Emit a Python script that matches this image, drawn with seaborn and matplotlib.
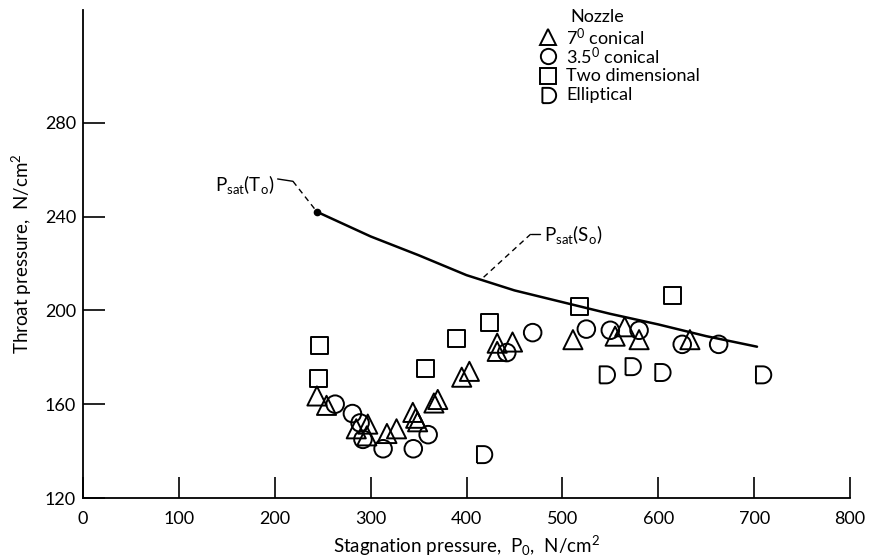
import numpy as np
import pandas as pd
import matplotlib
matplotlib.use("Agg")
import matplotlib.pyplot as plt
from matplotlib.path import Path
import seaborn as sns

# ---- data ----
tri_x = [244, 254, 285, 297, 296, 317, 327, 344, 347, 349, 366, 370, 395, 403, 432, 448, 432, 511, 555, 565, 580, 633]
tri_y = [163.5, 159.5, 149.5, 151.5, 146.5, 147.5, 149.5, 156.5, 154, 152.5, 160.5, 162, 171.5, 174, 186, 186.5, 182.5, 187.5, 189, 193, 187.5, 187.5]
cir_x = [263, 281, 289, 292, 313, 344.5, 360, 442, 469, 525, 550, 580, 625, 663]
cir_y = [160, 156, 152, 145, 141, 141, 147, 182, 190.5, 192, 191.5, 191.5, 185.5, 185.5]
sq_x = [247, 246, 357, 390, 424, 518, 615]
sq_y = [185, 171, 175, 188, 195, 201.5, 206.5]
ell_x = [418, 546, 573, 604, 709]
ell_y = [138.5, 172.5, 176, 173.5, 172.5]

curve_x = [244, 300, 350, 400, 450, 500, 550, 600, 650, 703]
curve_y = [242, 231.5, 223.5, 215, 208.5, 203.5, 198.5, 194, 189, 184.5]

nozzles = ["7° conical", "3.5° conical", "Two dimensional", "Elliptical"]
labels = [r"7$^{\mathregular{0}}$ conical", r"3.5$^{\mathregular{0}}$ conical", "Two dimensional", "Elliptical"]
x_ticks = [0, 100, 200, 300, 400, 500, 600, 700, 800]
y_ticks = [120, 160, 200, 240, 280]

# ---- style ----
sns.set_theme(style="white")
plt.rcParams["font.family"] = ["Lato", "DejaVu Sans"]
plt.rcParams["mathtext.fontset"] = "custom"
plt.rcParams["mathtext.rm"] = "Lato"
plt.rcParams["mathtext.it"] = "Lato"
for k in ["text.color", "axes.labelcolor", "xtick.color", "ytick.color", "axes.edgecolor"]:
    plt.rcParams[k] = "black"

# D-shaped marker
theta = np.linspace(np.pi / 2, -np.pi / 2, 40)
dverts = [(-0.8, -1.0), (-0.8, 1.0), (0.0, 1.0)] + [(np.cos(t), np.sin(t)) for t in theta][1:] + [(-0.8, -1.0)]
d_marker = Path(dverts)

markers = {nozzles[0]: "^", nozzles[1]: "o", nozzles[2]: "s", nozzles[3]: d_marker}
sizes = {nozzles[0]: 190, nozzles[1]: 160, nozzles[2]: 150, nozzles[3]: 150}

df = pd.concat([
    pd.DataFrame({"x": tri_x, "y": tri_y, "nozzle": nozzles[0]}),
    pd.DataFrame({"x": cir_x, "y": cir_y, "nozzle": nozzles[1]}),
    pd.DataFrame({"x": sq_x, "y": sq_y, "nozzle": nozzles[2]}),
    pd.DataFrame({"x": ell_x, "y": ell_y, "nozzle": nozzles[3]}),
], ignore_index=True)

fig = plt.figure(figsize=(8.71, 5.59), dpi=100)
ax = fig.add_axes([0.0953, 0.1091, 0.8806, 0.8729])

# saturation curve
sns.lineplot(x=curve_x, y=curve_y, ax=ax, color="black", linewidth=1.8, sort=True)
ax.plot([curve_x[0]], [curve_y[0]], marker="o", color="black", markersize=4.5)

for nz in nozzles:
    sub = df[df["nozzle"] == nz]
    sns.scatterplot(data=sub, x="x", y="y", ax=ax, marker=markers[nz], s=sizes[nz],
                    facecolor="none", edgecolor="black", linewidth=1.4, legend=False)

ax.set_xlim(0, 800)
ax.set_ylim(120, 328)
ax.set_xticks(x_ticks)
ax.set_yticks(y_ticks)
for s in ["top", "right"]:
    ax.spines[s].set_visible(False)
for s in ["left", "bottom"]:
    ax.spines[s].set_color("black")
    ax.spines[s].set_linewidth(1.3)
ax.tick_params(axis="x", direction="in", length=15, width=1.2, colors="black", labelsize=13, pad=9)
ax.tick_params(axis="y", direction="in", length=16, width=1.2, colors="black", labelsize=13, pad=5)
ax.tick_params(bottom=True, left=True)

ax.set_xlabel(r"Stagnation pressure,  P$_{\mathregular{0}}$,  N/cm$^{\mathregular{2}}$", fontsize=13.5, labelpad=5)
ax.set_ylabel(r"Throat pressure,  N/cm$^{\mathregular{2}}$", fontsize=13.5, labelpad=8)

# legend (drawn in axes coordinates)
leg_marker_x = 0.6063
leg_text_x = 0.6297
leg_rows = [0.9447, 0.9057, 0.8648, 0.8258]
ax.text(0.6701, 0.9857, "Nozzle", transform=ax.transAxes, fontsize=13, ha="center", va="center")
for nz, lab, yr in zip(nozzles, labels, leg_rows):
    ax.plot([leg_marker_x], [yr], transform=ax.transAxes, linestyle="none", marker=markers[nz],
            markersize=11, markerfacecolor="none", markeredgecolor="black", markeredgewidth=1.4,
            clip_on=False)
    ax.text(leg_text_x, yr, lab, transform=ax.transAxes, fontsize=13, ha="left", va="center")

# annotations
ax.text(200, 253.5, r"$\mathregular{P_{sat}(T_o)}$", fontsize=13.5, ha="right", va="center")
ax.plot([203, 219], [256, 255], color="black", linewidth=1.0)
ax.plot([219, curve_x[0]], [255, curve_y[0]], color="black", linewidth=1.0, linestyle=(0, (4, 3)))

ys = float(np.interp(415, curve_x, curve_y))
ax.text(481, 232.5, r"$\mathregular{P_{sat}(S_o)}$", fontsize=13.5, ha="left", va="center")
ax.plot([467, 477], [232.5, 232.5], color="black", linewidth=1.0)
ax.plot([467, 415], [232.5, ys], color="black", linewidth=1.0, linestyle=(0, (4, 3)))

fig.savefig("out.png", dpi=100)
